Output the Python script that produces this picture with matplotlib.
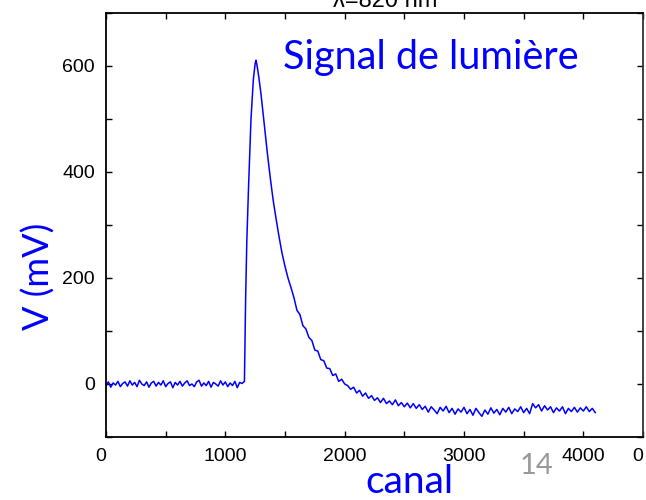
import numpy as np
import matplotlib
matplotlib.use("Agg")
import matplotlib.pyplot as plt

# canal / tension du signal lumineux (mV)
base_start, base_step = 0, 20
base_v = [-3, 4, -6, 2, -2, 5, -5, 1, 4, -4, 6, -2, 3, -5, 7, 0, -3, 4, -6, 2,
          5, -4, 3, -2, 6, -5, 1, 4, -7, 3, -2, 5, -4, 2, 6, -3, 0, -5, 4, 7,
          -4, 2, -3, 5, -6, 3, 0, -4, 6, -2, 4, -5, 2, -3, 5, -7, 3, 1]

peak_canal = [1160, 1165, 1170, 1180, 1195, 1215, 1235, 1250, 1257, 1265, 1280]
peak_v = [5, 80, 160, 270, 375, 500, 575, 605, 611, 602, 580]

tail_start, tail_step = 1300, 25
tail_v = [545, 493, 440, 392, 348, 312, 278, 247, 222, 200,
          182, 163, 139, 131, 110, 104, 88, 82, 64, 62,
          46, 44, 30, 29, 16, 19, 5, 9, 0, -3,
          -10, -6, -17, -12, -23, -17, -27, -22, -31, -26,
          -35, -27, -37, -32, -39, -30, -41, -35, -43, -36,
          -45, -37, -46, -39, -48, -42, -53, -43, -49, -56,
          -44, -51, -42, -54, -46, -57, -47, -53, -44, -56,
          -48, -59, -46, -54, -61, -49, -57, -45, -55, -48,
          -58, -46, -53, -44, -56, -47, -52, -43, -54, -46,
          -56, -37, -45, -39, -51, -41, -49, -43, -54, -45,
          -51, -43, -56, -46, -52, -44, -53, -45, -51, -43,
          -52, -46, -54]

base_canal = base_start + base_step * np.arange(len(base_v))
tail_canal = tail_start + tail_step * np.arange(len(tail_v))
canal = np.concatenate([base_canal, peak_canal, tail_canal])
volts = np.concatenate([base_v, peak_v, tail_v])

xticks = [0, 1000, 2000, 3000, 4000, 4500]
xticklabels = ['0', '1000', '2000', '3000', '4000', '0']
yticks = [0, 200, 400, 600]

blue = (0, 0, 1)

fig = plt.figure(figsize=(6.46, 5.0), dpi=100)
ax = fig.add_axes([106 / 646, 63 / 500, 537 / 646, 424 / 500])

ax.plot(canal, volts, color=blue, lw=1.1)

ax.set_xlim(0, 4500)
ax.set_ylim(-100, 700)
ax.set_xticks(xticks)
ax.set_xticklabels(xticklabels, fontfamily='Liberation Sans', fontsize=14)
ax.set_xticks(np.arange(500, 4500, 1000), minor=True)
ax.set_yticks(yticks)
ax.set_yticklabels([str(v) for v in yticks], fontfamily='Liberation Sans', fontsize=14)
ax.set_yticks([-100, 100, 300, 500, 700], minor=True)
ax.tick_params(which='both', direction='in', top=True, right=True,
               length=4, width=1, pad=8)
xl = ax.get_xticklabels()
xl[0].set_ha('right')
xl[-1].set_ha('right')
for s in ax.spines.values():
    s.set_linewidth(1.3)
ax.spines['right'].set_color('#333333')

ax.text(0.33, 0.896, 'Signal de lumière', transform=ax.transAxes,
        fontfamily='Lato', fontsize=28.5, color=blue, va='center', ha='left')

fig.text(39 / 646, 1 - 276 / 500, 'V (mV)', rotation=90, fontfamily='Lato',
         fontsize=26, color=blue, ha='center', va='center')
fig.text(409 / 646, 1 - 493 / 500, 'canal', fontfamily='Lato', fontsize=28,
         color=blue, ha='center', va='baseline')
fig.text(537 / 646, 1 - 474 / 500, '14', fontfamily='Lato', fontsize=21,
         color='#999999', ha='center', va='baseline')
fig.text(385 / 646, 1 - 7 / 500, 'λ=820 nm', fontfamily='Liberation Sans',
         fontsize=17, color='black', ha='center', va='baseline')

fig.savefig('out.png', dpi=100)
